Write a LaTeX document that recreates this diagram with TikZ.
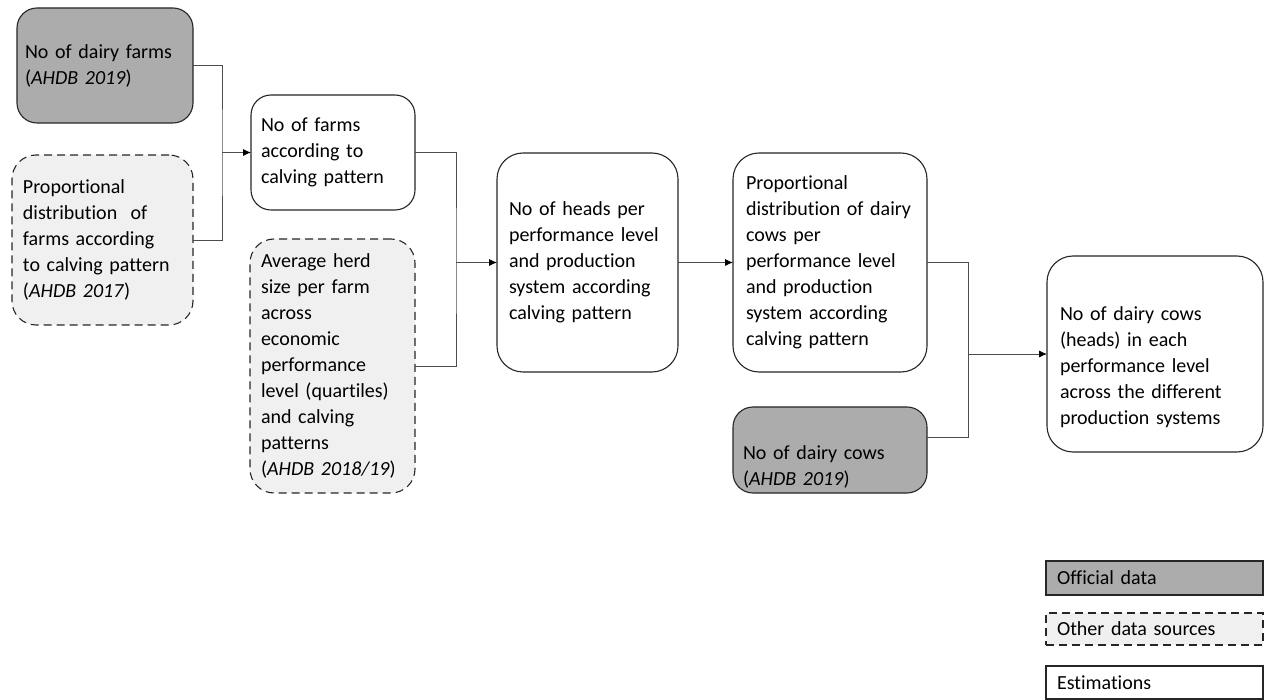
\documentclass[tikz,border=0pt]{standalone}
\usepackage{fontspec}
\setmainfont{Carlito}[Ligatures=NoCommon]
\usetikzlibrary{arrows.meta,positioning}

\begin{document}
\begin{tikzpicture}[x=1pt,y=-1pt,
  every node/.style={font=\fontsize{20pt}{26pt}\selectfont,align=left,inner xsep=10pt,inner ysep=0pt,outer sep=0pt},
  official/.style={draw=black!85,line width=1.1pt,fill=gray!65,rounded corners=20pt},
  other/.style={draw=black!85,line width=1.1pt,fill=gray!12,dash pattern=on 8pt off 5pt,rounded corners=24pt},
  estim/.style={draw=black!85,line width=1.1pt,fill=white,rounded corners=26pt},
  legbox/.style={draw=black!85,line width=1.1pt,minimum width=217pt,text width=195pt,inner xsep=11pt},
  conn/.style={draw=black!70,line width=0.8pt},
  arr/.style={conn,-{Latex[length=8pt,width=7pt,black]}}]

\useasboundingbox (0,0) rectangle (1272,700);

% Nodes
\node[official,minimum width=176pt,minimum height=115pt,text width=160pt,inner xsep=8pt] (farms) at (105,65.5)
  {No of dairy farms\\(\textit{AHDB 2019})};
\node[other,minimum width=181pt,minimum height=170pt,text width=159pt,inner xsep=11pt] (propfarms) at (102.5,240)
  {Proportional\\distribution\ \ of\\farms according\\to calving pattern\\(\textit{AHDB 2017})};
\node[estim,rounded corners=20pt,minimum width=164pt,minimum height=115pt,text width=144pt] (farmscalv) at (333,152.5)
  {No of farms\\according to\\calving pattern};
\node[other,minimum width=165pt,minimum height=254pt,text width=143pt,inner xsep=11pt] (herdsize) at (332.5,366)
  {Average herd\\size per farm\\across\\economic\\performance\\level (quartiles)\\and calving\\patterns\\(\textit{AHDB 2018/19})};
\node[estim,minimum width=181pt,minimum height=219pt,text width=157pt,inner xsep=12pt] (heads) at (587.5,262.5)
  {No of heads per\\performance level\\and production\\system according\\calving pattern};
\node[estim,minimum width=194pt,minimum height=219pt,text width=168pt,inner xsep=13pt] (propcows) at (830,262.5)
  {Proportional\\distribution of dairy\\cows per\\performance level\\and production\\system according\\calving pattern};
\node[official,minimum width=194pt,minimum height=86pt,text width=174pt,inner xsep=10pt] (cows) at (830,450)
  {\strut\\[4pt]No of dairy cows\\(\textit{AHDB 2019})};
\node[estim,minimum width=216pt,minimum height=196pt,text width=190pt,inner xsep=13pt] (result) at (1155,354)
  {\strut\\[-4pt]No of dairy cows\\(heads) in each\\performance level\\across the different\\production systems};

% legend
\node[legbox,fill=gray!65,minimum height=34pt] (legoff) at (1154.5,578) {Official data};
\node[legbox,fill=gray!12,dash pattern=on 8pt off 5pt,minimum height=32pt,below=18pt of legoff] (legother) {Other data sources};
\node[legbox,fill=white,minimum height=33pt,below=21pt of legother] (legest) {Estimations};

% connectors
\coordinate (j1) at ([xshift=-29pt]farmscalv.west);
\coordinate (j2) at ([xshift=-41pt]heads.west);
\coordinate (j3) at ([xshift=-79pt]result.west);

\draw[conn] (farms.east) -| (j1) |- (propfarms.east);
\draw[arr] (j1) -- (farmscalv.west);

\draw[conn] (farmscalv.east) -| (j2) |- (herdsize.east);
\draw[arr] (j2) -- (heads.west);

\draw[arr] (heads) -- (propcows);

\draw[conn] (propcows.east) -| (j3) |- ([yshift=13pt]cows.east);
\draw[arr] (j3) -- (result.west);

\end{tikzpicture}
\end{document}
